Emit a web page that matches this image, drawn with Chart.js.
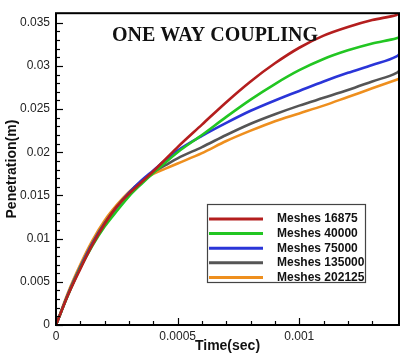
<!DOCTYPE html>
<html>
<head>
<meta charset="utf-8">
<script src="https://cdn.jsdelivr.net/npm/chart.js@4"></script>
<style>
  html, body { margin: 0; padding: 0; background: #fff; }
  #wrap { width: 403px; height: 356px; }
</style>
</head>
<body>
<div id="wrap"><canvas id="myChart" width="403" height="356"></canvas></div>
<script>
// time in seconds
let timeSec = [0, 0.00005, 0.0001, 0.00015, 0.0002, 0.00025, 0.0003, 0.00035, 0.0004, 0.00045, 0.0005,
               0.0006, 0.0007, 0.0008, 0.0009, 0.001, 0.0011, 0.0012, 0.0013, 0.0014, 0.00141];

// penetration (m) for each mesh
let mesh16875  = [0, 0.0035, 0.0065, 0.0093, 0.0117, 0.0137, 0.0152, 0.0165, 0.0178, 0.0192, 0.0206,
                  0.0232, 0.0258, 0.0282, 0.0303, 0.0321, 0.0335, 0.0345, 0.0353, 0.0359, 0.0360];
let mesh40000  = [0, 0.0035, 0.0066, 0.0092, 0.0114, 0.0132, 0.0149, 0.0163, 0.0176, 0.0188, 0.0200,
                  0.0220, 0.0241, 0.0261, 0.0279, 0.0295, 0.0308, 0.0318, 0.0326, 0.0332, 0.0333];
let mesh75000  = [0, 0.0036, 0.0067, 0.0094, 0.0117, 0.0136, 0.0153, 0.0167, 0.0179, 0.0191, 0.0202,
                  0.0219, 0.0234, 0.0248, 0.0260, 0.0271, 0.0282, 0.0292, 0.0301, 0.0311, 0.0313];
let mesh135000 = [0, 0.0036, 0.0067, 0.0095, 0.0118, 0.0137, 0.0153, 0.0166, 0.0177, 0.0185, 0.0193,
                  0.0206, 0.0220, 0.0233, 0.0244, 0.0254, 0.0263, 0.0272, 0.0282, 0.0292, 0.0294];
let mesh202125 = [0, 0.0038, 0.0070, 0.0098, 0.0121, 0.0139, 0.0154, 0.0166, 0.0175, 0.0181, 0.0187,
                  0.0199, 0.0213, 0.0225, 0.0236, 0.0245, 0.0254, 0.0264, 0.0274, 0.0284, 0.0285];

let seriesLabels = ['Meshes 16875', 'Meshes 40000', 'Meshes 75000', 'Meshes 135000', 'Meshes 202125'];
let seriesColors = ['#b41e1e', '#22c622', '#2a35d8', '#555555', '#ee8f1e'];
let allSeries = [mesh16875, mesh40000, mesh75000, mesh135000, mesh202125];

function toPoints(values) {
    let pts = [];
    for (let i = 0; i < values.length; i++) {
        pts.push({ x: timeSec[i], y: values[i] });
    }
    return pts;
}

let datasets = [];
for (let i = 0; i < allSeries.length; i++) {
    datasets.push({
        label: seriesLabels[i],
        data: toPoints(allSeries[i]),
        borderColor: seriesColors[i],
        backgroundColor: seriesColors[i],
        borderWidth: 2.6,
        pointRadius: 0,
        showLine: true,
        cubicInterpolationMode: 'monotone'
    });
}

// frame, inward ticks, title text and legend box
const framePlugin = {
    id: 'frame',
    afterDraw(chart) {
        const c = chart.ctx;
        const a = chart.chartArea;
        const xs = chart.scales.x;
        const ys = chart.scales.y;
        c.save();
        c.strokeStyle = '#000';
        c.lineWidth = 1.2;
        xs.ticks.forEach(t => {
            let k = Math.round(t.value * 10000);
            if (Math.abs(t.value * 10000 - k) > 1e-6) return;
            let len = (k % 5 === 0) ? 7 : 4;
            let px = Math.round(xs.getPixelForValue(t.value)) + 0.5;
            c.beginPath(); c.moveTo(px, a.bottom); c.lineTo(px, a.bottom - len); c.stroke();
        });
        ys.ticks.forEach(t => {
            let k = Math.round(t.value * 1000);
            if (Math.abs(t.value * 1000 - k) > 1e-6) return;
            let len = (k % 5 === 0) ? 7 : 4;
            let py = Math.round(ys.getPixelForValue(t.value)) + 0.5;
            c.beginPath(); c.moveTo(a.left, py); c.lineTo(a.left + len, py); c.stroke();
        });
        c.lineWidth = 2;
        c.strokeRect(a.left, a.top, a.right - a.left, a.bottom - a.top);

        // plot title inside the frame
        c.fillStyle = '#111';
        c.font = 'bold 20px "Liberation Serif", "DejaVu Serif", serif';
        c.textAlign = 'center';
        c.textBaseline = 'middle';
        c.fillText('ONE WAY COUPLING', 215, 36);

        // legend
        c.fillStyle = '#fff';
        c.fillRect(207, 204, 159, 79);
        c.lineWidth = 1.2;
        c.strokeStyle = '#444';
        c.strokeRect(207.5, 204.5, 158, 78);
        c.font = 'bold 12px "Liberation Sans", Arial, sans-serif';
        c.textAlign = 'left';
        chart.data.datasets.forEach((ds, i) => {
            let y = 219 + i * 14.6;
            c.strokeStyle = ds.borderColor;
            c.lineWidth = 3;
            c.beginPath(); c.moveTo(209, y); c.lineTo(263, y); c.stroke();
            c.fillStyle = '#111';
            c.fillText(ds.label, 277, y);
        });
        c.restore();
    }
};

var ctx = document.getElementById('myChart').getContext('2d');
var myChart = new Chart(ctx, {
    type: 'scatter',
    data: { datasets: datasets },
    options: {
        responsive: false,
        animation: false,
        layout: { padding: { top: 9, right: 1, left: 0, bottom: 0 } },
        plugins: {
            legend: { display: false },
            tooltip: { enabled: false }
        },
        scales: {
            x: {
                type: 'linear',
                min: 0,
                max: 0.00141,
                afterFit: s => { s.height = 31; },
                grid: { display: false, drawTicks: false },
                border: { display: false },
                ticks: {
                    stepSize: 0.0001,
                    autoSkip: false,
                    maxRotation: 0,
                    padding: 4,
                    color: '#222',
                    font: { family: '"Liberation Sans", Arial, sans-serif', size: 12 },
                    callback: v => {
                        let k = Math.round(v * 10000);
                        if (Math.abs(v * 10000 - k) > 1e-6 || k % 5 !== 0) return '';
                        return String(+v.toFixed(4));
                    }
                },
                title: {
                    display: true,
                    text: 'Time(sec)',
                    color: '#111',
                    padding: { top: 0, bottom: 1 },
                    font: { family: '"Liberation Sans", Arial, sans-serif', size: 14, weight: 'bold' }
                }
            },
            y: {
                min: 0,
                max: 0.0361,
                afterFit: s => { s.width = 56; },
                grid: { display: false, drawTicks: false },
                border: { display: false },
                ticks: {
                    stepSize: 0.001,
                    autoSkip: false,
                    padding: 6,
                    color: '#222',
                    font: { family: '"Liberation Sans", Arial, sans-serif', size: 12 },
                    callback: v => {
                        let k = Math.round(v * 1000);
                        if (Math.abs(v * 1000 - k) > 1e-6 || k % 5 !== 0) return '';
                        return String(+v.toFixed(3));
                    }
                },
                title: {
                    display: true,
                    text: 'Penetration(m)',
                    color: '#111',
                    padding: { top: 4, bottom: 0 },
                    font: { family: '"Liberation Sans", Arial, sans-serif', size: 14, weight: 'bold' }
                }
            }
        }
    },
    plugins: [framePlugin]
});
</script>
</body>
</html>
